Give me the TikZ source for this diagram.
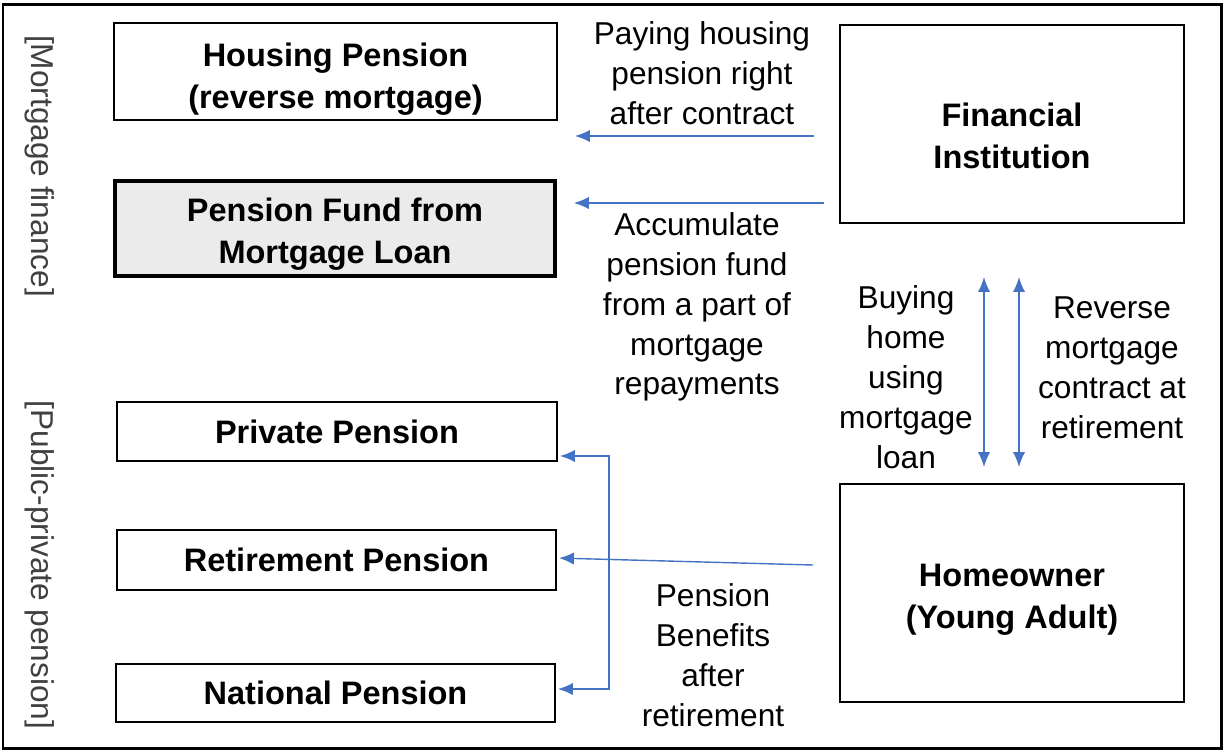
\documentclass[tikz,border=0pt]{standalone}
\usepackage{fontspec}
\setmainfont{Liberation Sans}
\usetikzlibrary{positioning,arrows.meta,calc}
\definecolor{flowblue}{HTML}{4472C4}
\newcommand{\tstrut}[1]{\rule{0pt}{#1}}

\begin{document}
\begin{tikzpicture}[
  x=0.02cm, y=-0.02cm,
  >={Latex[length=8.5pt,width=7pt]},
  font=\fontsize{18}{22.7}\selectfont,
  box/.style={draw, line width=1.2pt, inner sep=0pt, align=center,
    font=\fontsize{18.5}{24}\selectfont\bfseries},
  thickbox/.style={box, line width=2.5pt, fill=black!8},
  lbl/.style={align=center, inner sep=0pt},
  side/.style={rotate=-90, text=black!75, inner sep=0pt},
  flow/.style={draw=flowblue, line width=0.8pt}
]
\useasboundingbox (0,0) rectangle (1225,752);
\draw[line width=1.7pt] (3,4) rectangle (1221,748);

% left side: pension boxes
\node[box, minimum width=8.86cm, minimum height=1.94cm] (housing) at (335.5,71.5)
  {\tstrut{22pt}Housing Pension\\(reverse mortgage)};
\node[thickbox, minimum width=8.79cm, minimum height=1.89cm] (fund) at (335,228.5)
  {\tstrut{20pt}Pension Fund from\\Mortgage Loan};
\node[box, minimum width=8.8cm, minimum height=1.18cm] (private) at (337,431.5) {Private Pension};
\node[box, minimum width=8.78cm, minimum height=1.2cm] (retire) at (336.5,560) {Retirement Pension};
\node[box, minimum width=8.78cm, minimum height=1.16cm] (national) at (335.5,693) {National Pension};

% right side: actors
\node[box, minimum width=6.88cm, minimum height=3.96cm] (fin) at (1012,124)
  {\tstrut{27pt}Financial\\Institution};
\node[box, minimum width=6.88cm, minimum height=4.36cm] (home) at (1012,593)
  {\tstrut{20pt}Homeowner\\(Young Adult)};

% group labels
\node[side] (mfin) at (40,166) {[Mortgage finance]};
\node[side] (ppp) at (40,565) {[Public-private pension]};

% connectors
\coordinate (f1) at (814,136);
\coordinate (f2) at (824,203);
\coordinate (h1) at (813,565);
\coordinate (b1) at (609,456);
\coordinate (b2) at (609,689);

\draw[flow, ->, shorten >=17*0.02cm] (f1) -- (f1 -| housing.east);
\draw[flow, ->, shorten >=17*0.02cm] (f2) -- (f2 -| fund.east);
\draw[flow, ->, shorten >=2*0.02cm] (h1) -- ([yshift=0.04cm]retire.east);
\draw[flow, <->, shorten <=2*0.02cm, shorten >=2*0.02cm]
  (b1 -| private.east) -- (b1) -- (b2) -- (b2 -| national.east);
\draw[flow, <->, shorten <=53*0.02cm, shorten >=16*0.02cm]
  ([xshift=-28*0.02cm]fin.south) -- ([xshift=-28*0.02cm]home.north);
\draw[flow, <->, shorten <=53*0.02cm, shorten >=16*0.02cm]
  ([xshift=7*0.02cm]fin.south) -- ([xshift=7*0.02cm]home.north);

% connector labels
\node[lbl] (paylbl) at (702,73) {Paying housing\\pension right\\after contract};
\node[lbl] (acclbl) at (697,307) {Accumulate\\pension fund\\from a part of\\mortgage\\repayments};
\node[lbl] (buylbl) at (906,377) {Buying\\home\\using\\mortgage\\loan};
\node[lbl] (revlbl) at (1112,368) {Reverse\\mortgage\\contract at\\retirement};
\node[lbl] (benlbl) at (713,655) {Pension\\Benefits\\after\\retirement};

\end{tikzpicture}
\end{document}
